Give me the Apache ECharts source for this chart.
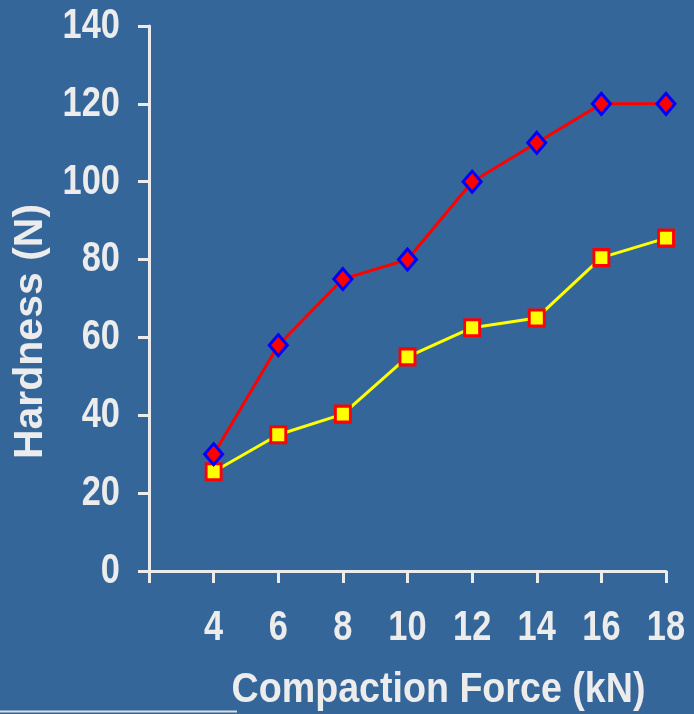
<!DOCTYPE html>
<html>
<head>
<meta charset="utf-8">
<script src="https://cdn.jsdelivr.net/npm/echarts@6/dist/echarts.min.js"></script>
<style>
html,body{margin:0;padding:0;background:#346699;}
#c{width:694px;height:714px;}
</style>
</head>
<body>
<div id="c"></div>
<script>
var forces = [4, 6, 8, 10, 12, 14, 16, 18];
var hardnessA = [30, 58, 75, 80, 100, 110, 120, 120];
var hardnessB = [25.5, 35, 40.3, 55, 62.5, 65, 80.5, 85.5];
var yTicks = [0, 20, 40, 60, 80, 100, 120, 140];
var xTitle = 'Compaction Force (kN)';
var yTitle = 'Hardness (N)';

function pairs(xs, ys) { return xs.map(function (x, i) { return [x, ys[i]]; }); }

var txt = '#ececec';
var font = '"Liberation Sans", Arial, sans-serif';
var chart = echarts.init(document.getElementById('c'), null, { renderer: 'canvas' });
chart.setOption({
  backgroundColor: '#346699',
  animation: false,
  grid: { left: 149, right: 28, top: 26, bottom: 143, containLabel: false, outerBoundsMode: 'none' },
  xAxis: {
    type: 'value', min: 2, max: 18, interval: 2,
    axisLine: { show: true, onZero: false, lineStyle: { color: txt, width: 3 } },
    axisTick: { show: true, length: 12, lineStyle: { color: txt, width: 3 } },
    axisLabel: { show: false },
    splitLine: { show: false }
  },
  yAxis: {
    type: 'value', min: yTicks[0], max: yTicks[yTicks.length - 1], interval: 20,
    name: yTitle, nameLocation: 'middle', nameGap: 98,
    nameTextStyle: { color: txt, fontSize: 41, fontWeight: 'bold', fontFamily: font, padding: [0, 66, 0, 0] },
    axisLine: { show: true, lineStyle: { color: txt, width: 3 } },
    axisTick: { show: true, length: 11, lineStyle: { color: txt, width: 3 } },
    axisLabel: { show: false },
    splitLine: { show: false }
  },
  series: [
    {
      type: 'line', data: pairs(forces, hardnessA),
      symbol: 'diamond', symbolSize: [18, 21],
      lineStyle: { color: '#ff0000', width: 3 },
      itemStyle: { color: '#ff0000', borderColor: '#0000ff', borderWidth: 3 },
      z: 3
    },
    {
      type: 'line', data: pairs(forces, hardnessB),
      symbol: 'rect', symbolSize: [15, 16],
      lineStyle: { color: '#ffff00', width: 3 },
      itemStyle: { color: '#ffff00', borderColor: '#ff0000', borderWidth: 3 },
      z: 2
    }
  ]
});

// Tick labels and x title drawn as (horizontally condensed) text at positions from the axes
var x0 = chart.convertToPixel({ xAxisIndex: 0 }, 2);
var x1 = chart.convertToPixel({ xAxisIndex: 0 }, 18);
var y0 = chart.convertToPixel({ yAxisIndex: 0 }, 0);
var labelFont = 'bold 43px ' + font;
var g = [];
forces.forEach(function (v) {
  g.push({ type: 'text', x: chart.convertToPixel({ xAxisIndex: 0 }, v), y: y0 + 57, scaleX: 0.8,
    style: { text: String(v), font: labelFont, fill: txt, align: 'center', verticalAlign: 'middle' } });
});
yTicks.forEach(function (v) {
  g.push({ type: 'text', x: x0 - 29, y: chart.convertToPixel({ yAxisIndex: 0 }, v), scaleX: 0.8,
    style: { text: String(v), font: labelFont, fill: txt, align: 'right', verticalAlign: 'middle' } });
});
g.push({ type: 'text', x: (x0 + x1) / 2 + 31, y: y0 + 119, scaleX: 0.875,
  style: { text: xTitle, font: 'bold 43px ' + font, fill: txt, align: 'center', verticalAlign: 'middle' } });
g.push({ type: 'line', shape: { x1: 0, y1: 711.5, x2: 237, y2: 711.5 }, style: { stroke: '#dddddd', lineWidth: 2 } });
chart.setOption({ graphic: g });
</script>
</body>
</html>
